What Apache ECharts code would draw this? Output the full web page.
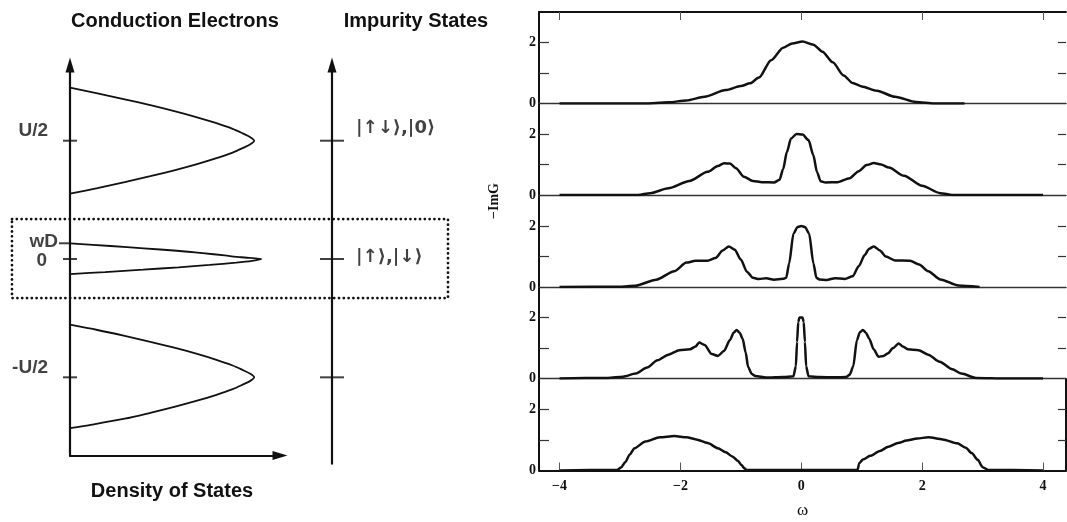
<!DOCTYPE html>
<html>
<head>
<meta charset="utf-8">
<script src="https://cdn.jsdelivr.net/npm/echarts@6/dist/echarts.min.js"></script>
<style>
  html, body { margin: 0; padding: 0; background: #ffffff; }
  #chart { width: 1067px; height: 522px; }
</style>
</head>
<body>
<div id="chart"></div>
<script>
// ---- Left schematic: energy in units of U/2, density of states in arbitrary units ----
const upperBandEnergy = [1.448, 1.40, 1.35, 1.30, 1.25, 1.20, 1.15, 1.10, 1.06, 1.03, 1.00, 0.97, 0.94, 0.90, 0.85, 0.80, 0.75, 0.70, 0.65, 0.60, 0.552];
const upperBandDos    = [0, 0.149, 0.297, 0.436, 0.566, 0.685, 0.791, 0.883, 0.94, 0.979, 1.0, 0.979, 0.94, 0.883, 0.791, 0.685, 0.566, 0.436, 0.297, 0.149, 0];
const lowerBandEnergy = [-0.555, -0.60, -0.65, -0.70, -0.75, -0.80, -0.85, -0.90, -0.94, -0.97, -1.0, -1.03, -1.06, -1.10, -1.15, -1.20, -1.25, -1.30, -1.35, -1.40, -1.43];
const lowerBandDos    = [0, 0.149, 0.297, 0.436, 0.566, 0.685, 0.791, 0.883, 0.94, 0.979, 1.0, 0.979, 0.94, 0.883, 0.791, 0.685, 0.566, 0.436, 0.297, 0.12, 0];
const centralBandEnergy = [0.133, 0.11, 0.09, 0.07, 0.05, 0.03, 0.015, 0, -0.015, -0.03, -0.05, -0.07, -0.09, -0.11, -0.127];
const centralBandDos    = [0, 0.22, 0.40, 0.58, 0.72, 0.84, 0.93, 1.04, 0.988, 0.902, 0.758, 0.589, 0.397, 0.19, 0];

const levelEnergy = [1, 0.133, 0, -1];
const levelLabels = ['U/2', 'wD', '0', '-U/2'];
const impurityEnergy = [1, 0, -1];
const impurityLabels = ['|\u2191\u2193\u27E9,|0\u27E9', '|\u2191\u27E9,|\u2193\u27E9', ''];
const windowEnergy = [-0.33, 0.338];

// ---- Right: -ImG(omega), one spectrum per panel, top to bottom ----
const omega1 = [-4.0, -2.6, -2.2, -1.9, -1.6, -1.25, -1.0, -0.85, -0.7, -0.5, -0.3, -0.15, 0.02, 0.2, 0.35, 0.52, 0.7, 0.85, 1.0, 1.25, 1.55, 1.9, 2.2, 2.7];
const imG1   = [0, 0, 0.04, 0.1, 0.22, 0.44, 0.57, 0.66, 0.85, 1.42, 1.83, 1.97, 2.03, 1.93, 1.70, 1.35, 0.92, 0.67, 0.56, 0.42, 0.22, 0.05, 0, 0];

const omega2 = [-4.0, -2.7, -2.5, -2.2, -1.85, -1.55, -1.38, -1.28, -1.18, -1.08, -0.95, -0.8, -0.65, -0.45, -0.36, -0.3, -0.24, -0.17, -0.08, 0.02, 0.12, 0.2, 0.26, 0.32, 0.4, 0.6, 0.8, 0.95, 1.08, 1.2, 1.32, 1.45, 1.7, 2.0, 2.3, 2.5, 4.0];
const imG2   = [0, 0, 0.06, 0.22, 0.46, 0.76, 0.95, 1.04, 1.03, 0.88, 0.60, 0.46, 0.42, 0.41, 0.5, 0.85, 1.4, 1.85, 2.0, 1.98, 1.8, 1.3, 0.75, 0.45, 0.41, 0.42, 0.55, 0.78, 0.98, 1.05, 1.0, 0.9, 0.63, 0.3, 0.06, 0, 0];

const omega3 = [-4.0, -3.0, -2.75, -2.4, -2.1, -1.9, -1.75, -1.55, -1.42, -1.3, -1.2, -1.1, -1.0, -0.9, -0.8, -0.7, -0.58, -0.45, -0.3, -0.25, -0.2, -0.13, -0.06, 0, 0.06, 0.13, 0.2, 0.25, 0.3, 0.42, 0.56, 0.72, 0.85, 0.95, 1.05, 1.12, 1.2, 1.3, 1.4, 1.55, 1.8, 1.95, 2.1, 2.3, 2.6, 2.95];
const imG3   = [0, 0.01, 0.04, 0.24, 0.52, 0.80, 0.86, 0.86, 0.95, 1.2, 1.33, 1.22, 0.9, 0.5, 0.3, 0.26, 0.29, 0.24, 0.27, 0.3, 0.78, 1.75, 1.97, 2.0, 1.97, 1.75, 0.78, 0.3, 0.25, 0.23, 0.29, 0.26, 0.35, 0.68, 1.05, 1.25, 1.33, 1.2, 1.0, 0.87, 0.86, 0.74, 0.52, 0.25, 0.05, 0];

const omega4 = [-4.0, -3.2, -2.95, -2.74, -2.55, -2.38, -2.2, -2.02, -1.84, -1.75, -1.69, -1.6, -1.48, -1.38, -1.28, -1.18, -1.12, -1.07, -1.02, -0.97, -0.92, -0.88, -0.82, -0.76, -0.58, -0.3, -0.13, -0.09, -0.07, -0.05, -0.03, 0.02, 0.04, 0.06, 0.08, 0.12, 0.3, 0.55, 0.74, 0.8, 0.86, 0.92, 0.97, 1.02, 1.07, 1.12, 1.2, 1.28, 1.36, 1.43, 1.52, 1.61, 1.68, 1.76, 1.94, 2.1, 2.29, 2.5, 2.65, 2.89, 3.4, 4.0];
const imG4   = [0, 0.02, 0.06, 0.16, 0.36, 0.60, 0.78, 0.93, 0.96, 1.05, 1.18, 1.1, 0.80, 0.74, 0.9, 1.26, 1.5, 1.59, 1.5, 1.3, 0.85, 0.38, 0.15, 0.08, 0.03, 0.05, 0.07, 0.4, 1.2, 1.85, 2.0, 2.0, 1.85, 1.2, 0.4, 0.07, 0.05, 0.04, 0.05, 0.12, 0.4, 1.26, 1.52, 1.59, 1.5, 1.32, 0.95, 0.71, 0.74, 0.82, 1.0, 1.15, 1.05, 0.96, 0.93, 0.78, 0.55, 0.3, 0.16, 0.02, 0, 0];

const omega5 = [-4.0, -3.05, -2.98, -2.91, -2.84, -2.76, -2.58, -2.34, -2.1, -1.9, -1.74, -1.55, -1.38, -1.25, -1.14, -1.05, -0.99, -0.94, -0.91, 0.93, 0.96, 1.02, 1.14, 1.3, 1.44, 1.6, 1.74, 1.92, 2.1, 2.34, 2.58, 2.72, 2.82, 2.92, 3.0, 3.09, 4.0];
const imG5   = [0, 0.02, 0.1, 0.28, 0.52, 0.73, 0.95, 1.09, 1.13, 1.09, 1.02, 0.9, 0.73, 0.6, 0.46, 0.32, 0.18, 0.07, 0.02, 0.02, 0.24, 0.36, 0.48, 0.64, 0.78, 0.9, 0.98, 1.05, 1.09, 1.02, 0.89, 0.75, 0.57, 0.35, 0.11, 0.02, 0];

const omegaTicks = [-4, -2, 0, 2, 4];
const imGTicks = [1, 2];
const imGLabels = [0, 2];

// ---- chart ----
const INK = '#111111';
const SANS = 'Liberation Sans, Arial, sans-serif';
const SERIF = 'Liberation Serif, Times New Roman, serif';
const pairs = (xs, ys) => xs.map((x, i) => [x, ys[i]]);
const spectra = [[omega1, imG1], [omega2, imG2], [omega3, imG3], [omega4, imG4], [omega5, imG5]];
const panelTops = [12, 103.5, 195.5, 287, 379];
const panelHeight = 91.5;

const chart = echarts.init(document.getElementById('chart'));

const grids = [
  { left: 70, top: 65, width: 210, height: 390.4, outerBoundsMode: 'none' },
  { left: 332, top: 65, width: 100, height: 398.7, outerBoundsMode: 'none' }
];
panelTops.forEach(t => grids.push({ left: 539, top: t, width: 527, height: panelHeight, outerBoundsMode: 'none' }));

const arrowLine = { show: true, onZero: false, symbol: ['none', 'triangle'], symbolSize: [9, 15], lineStyle: { color: INK, width: 2.2 } };
const hidden = { show: false };

const xAxes = [
  { gridIndex: 0, type: 'value', min: 0, max: 1.14, axisLine: arrowLine, axisTick: hidden, axisLabel: hidden, splitLine: hidden },
  { gridIndex: 1, type: 'value', min: 0, max: 1, show: false }
];
const yAxes = [
  { gridIndex: 0, type: 'value', min: -1.66, max: 1.64, axisLine: arrowLine, axisTick: hidden, axisLabel: hidden, splitLine: hidden },
  { gridIndex: 1, type: 'value', min: -1.73, max: 1.64, axisLine: arrowLine, axisTick: hidden, axisLabel: hidden, splitLine: hidden }
];

spectra.forEach((s, i) => {
  const last = i === spectra.length - 1;
  xAxes.push({
    gridIndex: 2 + i, type: 'value', min: -4.34, max: 4.38,
    axisLine: { show: true, onZero: false, lineStyle: { color: last ? INK : '#333', width: last ? 1.8 : 1.3 } },
    axisTick: last ? { show: true, inside: true, length: 8, customValues: omegaTicks, lineStyle: { color: '#555', width: 1 } } : hidden,
    axisLabel: last ? {
      show: true, customValues: omegaTicks, margin: 9,
      formatter: v => String(v).replace('-', '\u2212'),
      fontFamily: SERIF, fontWeight: 'bold', fontSize: 14, color: INK
    } : hidden,
    splitLine: hidden,
    name: last ? '\u03C9' : '', nameLocation: 'middle', nameGap: 32,
    nameTextStyle: { fontFamily: SERIF, fontSize: 17, color: INK }
  });
});
// frame line across the top of the first panel
xAxes.push({
  gridIndex: 2, position: 'top', type: 'value', min: -4.34, max: 4.38,
  axisLine: { show: true, onZero: false, lineStyle: { color: INK, width: 1.8 } },
  axisTick: { show: true, inside: true, length: 8, customValues: omegaTicks, lineStyle: { color: '#555', width: 1 } },
  axisLabel: hidden, splitLine: hidden
});

spectra.forEach((s, i) => {
  yAxes.push({
    gridIndex: 2 + i, type: 'value', min: 0, max: 3, position: 'left',
    axisLine: { show: true, onZero: false, lineStyle: { color: INK, width: 2 } },
    axisTick: { show: true, inside: true, length: 10, customValues: imGTicks, lineStyle: { color: '#333', width: 1.2 } },
    axisLabel: { show: true, customValues: imGLabels, margin: 3, fontFamily: SERIF, fontWeight: 'bold', fontSize: 14, color: INK },
    splitLine: hidden
  });
});
spectra.forEach((s, i) => {
  yAxes.push({
    gridIndex: 2 + i, type: 'value', min: 0, max: 3, position: 'right',
    axisLine: { show: i === spectra.length - 1, onZero: false, lineStyle: { color: INK, width: 2 } },
    axisTick: { show: true, inside: true, length: 8, customValues: imGTicks, lineStyle: { color: '#333', width: 1.2 } },
    axisLabel: hidden, splitLine: hidden
  });
});

const bandLine = { color: INK, width: 1.8 };
const series = [
  { type: 'line', xAxisIndex: 0, yAxisIndex: 0, data: pairs(upperBandDos, upperBandEnergy), symbol: 'none', smooth: 0.3, lineStyle: bandLine },
  { type: 'line', xAxisIndex: 0, yAxisIndex: 0, data: pairs(centralBandDos, centralBandEnergy), symbol: 'none', smooth: 0.3, lineStyle: bandLine },
  { type: 'line', xAxisIndex: 0, yAxisIndex: 0, data: pairs(lowerBandDos, lowerBandEnergy), symbol: 'none', smooth: 0.3, lineStyle: bandLine }
];

// level ticks and labels on the conduction-electron axis
const levelDistance = [15, 1, 16, 15];
const levelShift = [-10, -2, 2, -10];
series.push({
  type: 'scatter', xAxisIndex: 0, yAxisIndex: 0, clip: false, symbol: 'rect', z: 5,
  itemStyle: { color: INK },
  data: levelEnergy.map((e, i) => ({
    value: [0, e],
    symbolSize: i === 1 ? [12, 2] : [14, 2],
    symbolOffset: i === 1 ? [-5, 0] : [0, 0],
    label: {
      show: true, position: 'left', distance: levelDistance[i], offset: [0, levelShift[i]],
      formatter: levelLabels[i], fontFamily: SANS, fontWeight: 'bold', fontSize: 19, color: INK
    }
  }))
});

// impurity levels
const impurityShift = [-12, -2, 0];
series.push({
  type: 'scatter', xAxisIndex: 1, yAxisIndex: 1, clip: false, symbol: 'rect', z: 5,
  itemStyle: { color: INK },
  data: impurityEnergy.map((e, i) => ({
    value: [0, e],
    symbolSize: [24, 2],
    label: {
      show: impurityLabels[i] !== '', position: 'right', distance: 12, offset: [0, impurityShift[i]],
      formatter: impurityLabels[i], fontFamily: 'DejaVu Sans, sans-serif', fontWeight: 'bold', fontSize: 18, color: INK
    }
  }))
});

spectra.forEach((s, i) => {
  series.push({
    type: 'line', xAxisIndex: 2 + i, yAxisIndex: 2 + i,
    data: pairs(s[0], s[1]), symbol: 'none', smooth: 0.25, smoothMonotone: 'x',
    lineStyle: { color: INK, width: 2.5 }, z: 3
  });
});

const titleFont = 'bold 20px ' + SANS;
const texts = [
  { type: 'text', x: 175, y: 21, style: { text: 'Conduction Electrons', font: titleFont, fill: INK, textAlign: 'center', textVerticalAlign: 'middle' } },
  { type: 'text', x: 416, y: 21, style: { text: 'Impurity States', font: titleFont, fill: INK, textAlign: 'center', textVerticalAlign: 'middle' } },
  { type: 'text', x: 172, y: 491, style: { text: 'Density of States', font: titleFont, fill: INK, textAlign: 'center', textVerticalAlign: 'middle' } },
  { type: 'text', x: 494, y: 201, rotation: Math.PI / 2, style: { text: '\u2212ImG', font: 'bold 14px ' + SERIF, fill: INK, textAlign: 'center', textVerticalAlign: 'middle' } }
];

chart.setOption({
  backgroundColor: '#ffffff',
  animation: false,
  grid: grids,
  xAxis: xAxes,
  yAxis: yAxes,
  series: series,
  graphic: texts
});

// dotted window around the low-energy states, reaching across both columns;
// its energy edges go through the conduction-electron scale
const windowSpan = [-0.315, 2.052];
const p0 = chart.convertToPixel({ gridIndex: 0 }, [windowSpan[0], windowEnergy[1]]);
const p1 = chart.convertToPixel({ gridIndex: 0 }, [windowSpan[1], windowEnergy[0]]);
chart.setOption({
  graphic: texts.concat([{
    type: 'rect', z: 1,
    shape: { x: p0[0], y: p0[1], width: p1[0] - p0[0], height: p1[1] - p0[1] },
    style: { fill: 'none', stroke: INK, lineWidth: 2.7, lineDash: [0.1, 4.7], lineCap: 'round' }
  }])
});
</script>
</body>
</html>
